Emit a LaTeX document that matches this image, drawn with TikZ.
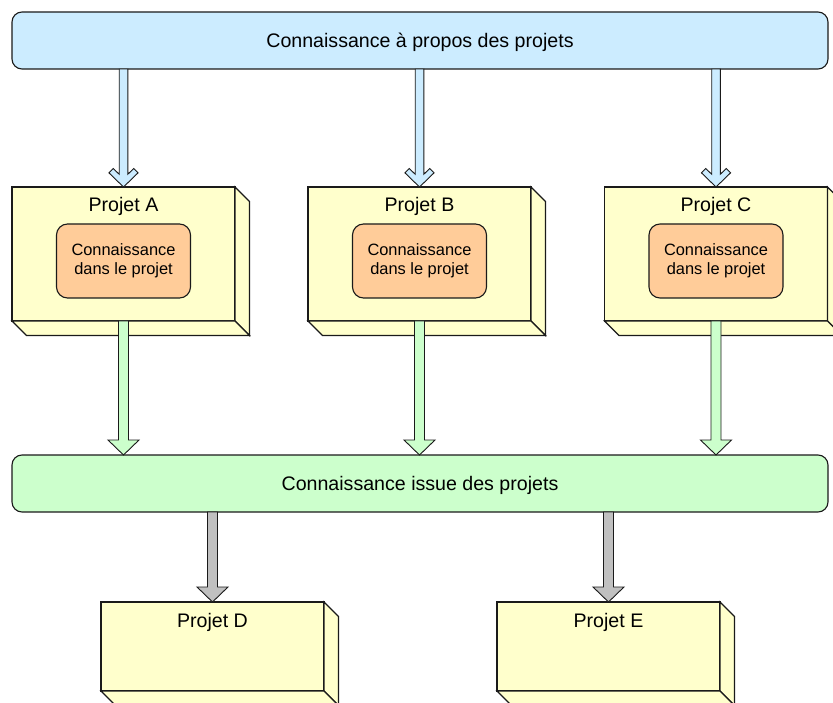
\documentclass[tikz,border=0pt]{standalone}
\usepackage{fontspec}
\setmainfont{Liberation Sans}
\usetikzlibrary{calc}

\definecolor{linec}{HTML}{1A1A1A}
\definecolor{skyfill}{HTML}{CCECFF}
\definecolor{mintfill}{HTML}{CCFFCC}
\definecolor{creamfill}{HTML}{FFFFCC}
\definecolor{peachfill}{HTML}{FFCC99}
\definecolor{greyfill}{HTML}{C0C0C0}

\newcommand\diagbig{\fontsize{19.6}{23}\selectfont}
\newcommand\diagsmall{\fontsize{16.4}{19}\selectfont}

\tikzset{
  banner/.style={draw=linec, line width=1.1pt, rounded corners=10pt,
    minimum width=816pt, minimum height=57pt, anchor=north west,
    outer sep=0pt, inner sep=0pt, font=\diagbig, text height=14pt, text depth=0pt},
  projface/.style={draw=linec, fill=creamfill, line width=1.1pt,
    minimum width=223pt, anchor=north west, outer sep=0pt, inner sep=0pt},
  projside/.style={draw=linec, fill=creamfill, line width=1.1pt, line join=miter},
  projtitle/.style={font=\diagbig, anchor=base, inner sep=0pt},
  knowbox/.style={draw=linec, fill=peachfill, line width=1.1pt, rounded corners=11pt,
    minimum width=134pt, minimum height=74pt, outer sep=0pt, inner sep=0pt,
    align=center, font=\diagsmall},
  arrowline/.style={draw=linec, line width=0.9pt, line join=miter},
}

% solid block arrow: fill colour, start point, tip point
\newcommand\blockarrow[3]{%
  \filldraw[arrowline, fill=#1] let \p1=(#2), \p2=(#3) in
    (\x1-5pt,\y1) -- (\x1-5pt,\y2+15pt) -- (\x1-15.5pt,\y2+15pt) --
    (\x1,\y2) -- (\x1+15.5pt,\y2+15pt) -- (\x1+5pt,\y2+15pt) --
    (\x1+5pt,\y1) -- cycle;}

% open chevron arrow: fill colour, start point, tip point
\newcommand\chevronarrow[3]{%
  \filldraw[arrowline, fill=#1] let \p1=(#2), \p2=(#3) in
    (\x1-4.3pt,\y1) -- (\x1-4.3pt,\y2+12.7pt) -- (\x1-10.2pt,\y2+18.5pt) --
    (\x1-14.6pt,\y2+14.2pt) -- (\x1,\y2) -- (\x1+14.6pt,\y2+14.2pt) --
    (\x1+10.2pt,\y2+18.5pt) -- (\x1+4.3pt,\y2+12.7pt) --
    (\x1+4.3pt,\y1) -- cycle;}

% 3D project block: name, north-west corner, height of front face, title
\newcommand\projblock[4]{%
  \node[projface, minimum height=#3] (#1) at (#2) {};
  \filldraw[projside] (#1.north east) -- ++(14.5,14.5)
    -- ($(#1.south east)+(14.5,14.5)$) -- (#1.south east) -- cycle;
  \filldraw[projside] (#1.south west) -- ++(14.5,14.5)
    -- ($(#1.south east)+(14.5,14.5)$) -- (#1.south east) -- cycle;
  \node[projtitle] (#1title) at ($(#1.north)+(0,25)$) {#4};}

\begin{document}
\begin{tikzpicture}[x=1pt,y=-1pt]
  \useasboundingbox (0,0) rectangle (833,703);
  \clip (0,0) rectangle (833,703);

  % shared knowledge bar
  \node[banner, fill=skyfill] (about) at (12,12) {Connaissance à propos des projets};

  % projects A, B, C with their internal knowledge
  \projblock{A}{12,187}{134pt}{Projet A}
  \projblock{B}{308,187}{134pt}{Projet B}
  \projblock{C}{604.5,187}{134pt}{Projet C}
  \foreach \q in {A,B,C}{
    \node[knowbox] (\q know) at ($(\q.north)+(0,74)$) {Connaissance\\dans le projet};
  }

  % knowledge coming out of the projects
  \node[banner, fill=mintfill] (issue) at (12,455) {Connaissance issue des projets};

  % projects D and E
  \projblock{D}{101,602}{89pt}{Projet D}
  \projblock{E}{497,602}{89pt}{Projet E}

  % knowledge flowing into the projects
  \foreach \q in {A,B,C}{
    \chevronarrow{skyfill}{about.south -| \q.north}{\q.north}
  }
  % knowledge flowing out of the projects
  \foreach \q in {A,B,C}{
    \blockarrow{mintfill}{\q.south}{issue.north -| \q.south}
  }
  % reuse in later projects
  \foreach \q in {D,E}{
    \blockarrow{greyfill}{issue.south -| \q.north}{\q.north}
  }
\end{tikzpicture}
\end{document}
